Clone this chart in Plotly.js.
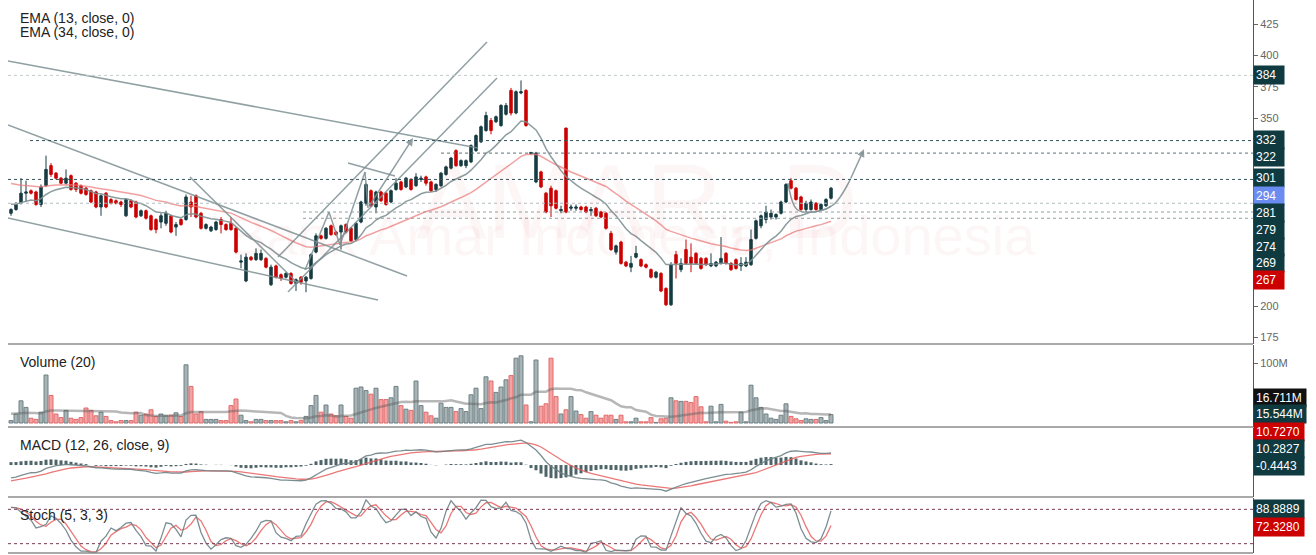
<!DOCTYPE html>
<html><head><meta charset="utf-8">
<script src="https://cdn.plot.ly/plotly-3.0.1.min.js"></script>
<style>html,body{margin:0;padding:0;background:#fff;overflow:hidden}#chart{width:1316px;height:555px}</style>
</head><body><div id="chart"></div>
<script>
// ---------- DATA ----------
const opens = [274,277,282,290,292,291,281,296,312,306,302,298,304,298,296,294,292,291,279,290,
285,284,283,272,284,283,272,276,272,269,267,266,272,263,269,269,283,288,274,262,
260,261,269,265,266,262,235,220,239,237,237,238,217,232,225,223,226,218,223,220,
222,243,256,254,264,259,259,265,262,253,267,282,292,279,291,290,283,293,299,295,
301,296,301,303,299,293,296,305,310,324,312,312,315,324,331,340,348,347,344,353,
372,354,370,372,321.5,299,307,290,294,292,276,342,278,278,279,279,276,278,275,274,
258,243,251,235,231,239,237,233,229,223,226,214,201,241,229,245,239,242,238,238,
232,232,234,242,234,237,232,232,233,254,264,269,271,271,274,283,300,294,287,277,
277,282,277,280,286];
const highs = [278,283,302,300,293,292,297,320,314,307,303,309,305,299,297,295,293,292,289,291,
286,285,284,286,285,284,277,277,273,270,274,276,273,267,270,289,288,289,275,266,
264,268,271,266,271,263,241,242,240,246,245,239,233,233,226,227,227,222,224,224,
242,258,257,263,265,260,265,266,263,267,284,298,293,292,292,291,293,302,300,303,
302,306,304,304,300,298,307,312,319,325,317,317,329,337,344,355,350,352,361,362,
374,372,380,373,323,323,308,291,296,293,280,342,281,281,280,280,279,279,276,275,
260,249,252,236,240,248,238,234,230,228,227,215,235,244,238,253,250,243,239,239,
242,236,255,243,235,238,239,239,261,269,273,280,277,274,284,298,302,295,288,284,
285,283,282,286,295];
const lows = [272,276,281,283,289,280,279,295,303,301,297,297,292,291,289,288,282,278,272,278,
281,281,279,271,278,270,271,269,260,258,262,264,258,256,264,268,271,270,261,261,
259,260,258,260,260,242,230,219,236,236,236,230,216,222,220,222,217,212,217,211,
221,242,253,253,256,256,245,258,251,252,266,280,279,274,283,280,282,292,292,294,
292,295,299,296,291,291,295,304,309,311,311,310,314,323,330,339,337,346,343,352,
352,353,369,343,321,298,294,274,271,277,274,274,276,276,276,274,272,271,270,261,
244,241,233,231,227,238,231,230,222,222,211,200,200,222,227,233,227,233,229,232,
231,231,233,233,228,229,228,231,232,253,262,266,269,269,273,282,293,284,276,275,
276,276,276,279,285];
const closes = [277,281,290,291,290,281,295,309,305,302,298,302,293,293,290,289,283,279,288,279,
282,282,281,285,279,271,276,270,261,261,272,274,259,265,265,287,279,271,262,265,
263,267,265,261,261,243,236,239,237,242,242,231,231,223,222,226,218,221,219,223,
241,256,254,262,257,257,264,259,252,266,283,297,280,291,284,281,292,298,293,302,
293,303,302,298,292,297,306,311,318,312,316,316,328,336,343,352,340,351,360,360,
354,371,371,344,322.5,322,295,275,280,278,277,275,279,279,277,275,277,272,271,262,
245,248,234,232,234,242,232,231,223,227,212,201,233,234,234,234,234,234,230,233,
234,235,238,234,229,230,234,235,253,268,272,275,274,273,283,297,294,285,277,282,
283,277,281,285,294];
// volume in millions
const volumes = [4,15,37,26,8,6,18,80,46,15,9,21,8,6,9,25,21,12,18,11,
4,2,4,4,4,18,13,15,22,11,15,12,13,17,11,97,61,15,19,6,
6,6,4,4,29,40,13,4,2,6,6,4,4,4,4,2,4,2,4,11,
29,46,18,30,15,12,30,11,8,58,60,54,48,58,39,39,42,61,29,23,
21,70,29,18,12,8,33,26,26,19,24,19,47,58,24,77,70,51,60,72,
79,108,112,30,2,105,28,32,108,44,15,22,44,20,14,8,19,13,8,13,
13,6,13,2,2,8,2,2,9,1,7,8,42,37,36,36,34,44,27,2,
28,2,31,3,1,2,18,2,63,42,26,15,8,6,13,32,11,7,4,7,
6,6,9,4,14];
// indicator values at the left edge of the picture (history before the first candle)
const ema13Seed = 282, ema34Seed = 299, ema12Seed = 283, ema26Seed = 294.3, signalSeed = -14, volMaSeed = 16;

// right-side value labels
const priceLabels = ['384','332','322','301','294','281','279','274','269','267'];
const levelPrices = [384, 332, 322, 301, 282, 275, 270];
const volLabels = ['16.711M','15.544M'];
const macdLabels = ['10.7270','10.2827','-0.4443'];
const stochLabels = ['88.8889','72.3280'];
const priceTicks = [175,200,350,375,400,425];
const volTicks = [0,100];
const volTickText = ['0','100M'];

// ---------- indicators ----------
const N = closes.length;
const idx = closes.map((_, i) => i);
function emaSeries(src, period, seed){const k=2/(period+1);let p=seed;return src.map(v=>(p=v*k+p*(1-k)));}
const ema13 = emaSeries(closes,13,ema13Seed);
const ema34 = emaSeries(closes,34,ema34Seed);
const ema12 = emaSeries(closes,12,ema12Seed);
const ema26 = emaSeries(closes,26,ema26Seed);
const macd = ema12.map((v,i)=>v-ema26[i]);
const signal = emaSeries(macd,9,signalSeed);
const hist = macd.map((v,i)=>v-signal[i]);
const volMA = volumes.map((_,i)=>{let s=0;for(let j=i-19;j<=i;j++){s+= j>=0?volumes[j]:volMaSeed;}return s/20;});
const rawK = closes.map((c,i)=>{const a=Math.max(0,i-4);const hh=Math.max(...highs.slice(a,i+1));const ll=Math.min(...lows.slice(a,i+1));return hh===ll?50:100*(c-ll)/(hh-ll);});
const sma=(arr,n)=>arr.map((_,i)=>{const s=arr.slice(Math.max(0,i-n+1),i+1);return s.reduce((a,b)=>a+b,0)/s.length;});
const stochK = sma(rawK,3), stochD = sma(stochK,3);

// ---------- style ----------
const UP='#163c42', DN='#cc0000', TEAL='#0f3a40', H=555;
const py = p => 1 - p/H; // pixel row -> paper
const upDir = closes.map((c,i)=>c>=opens[i]);

const traces = [
 {type:'candlestick', x:idx, open:opens, high:highs, low:lows, close:closes, xaxis:'x', yaxis:'y',
  increasing:{line:{color:UP,width:1},fillcolor:UP}, decreasing:{line:{color:DN,width:1},fillcolor:DN},
  whiskerwidth:0, hoverinfo:'skip'},
 {type:'scatter', mode:'lines', x:idx, y:ema34, yaxis:'y', line:{color:'rgba(235,120,120,0.7)',width:1.5}, hoverinfo:'skip'},
 {type:'scatter', mode:'lines', x:idx, y:ema13, yaxis:'y', line:{color:'rgba(128,145,148,0.9)',width:1.5}, hoverinfo:'skip'},
 {type:'scatter', mode:'lines', x:[155.4,157.2,160.4,164.4,167.8], y:[298,277,275,280.6,300.5], yaxis:'y',
  line:{color:'rgba(128,145,148,0.9)',width:1.5,shape:'spline'}, hoverinfo:'skip'},
 {type:'bar', x:idx, y:volumes, yaxis:'y2', width:0.8,
  marker:{color:upDir.map(u=>u?'#a7b3b5':'#f3a3a3'), line:{color:upDir.map(u=>u?'#6f8185':'#e26a6a'),width:1}}, hoverinfo:'skip'},
 {type:'scatter', mode:'lines', x:idx, y:volMA, yaxis:'y2', line:{color:'rgba(95,95,95,0.45)',width:2.5}, hoverinfo:'skip'},
 {type:'bar', x:idx, y:hist, yaxis:'y3', width:0.6, marker:{color:'#4e6468'}, hoverinfo:'skip'},
 {type:'scatter', mode:'lines', x:idx, y:signal, yaxis:'y3', line:{color:'rgba(232,95,95,0.85)',width:1.3}, hoverinfo:'skip'},
 {type:'scatter', mode:'lines', x:idx, y:macd, yaxis:'y3', line:{color:'rgba(110,130,134,0.9)',width:1.3}, hoverinfo:'skip'},
 {type:'scatter', mode:'lines', x:idx, y:stochD, yaxis:'y4', line:{color:'rgba(232,95,95,0.85)',width:1.3}, hoverinfo:'skip'},
 {type:'scatter', mode:'lines', x:idx, y:stochK, yaxis:'y4', line:{color:'rgba(110,130,134,0.9)',width:1.3}, hoverinfo:'skip'}
];

const XR=[-0.6,248.4];
const axBase = {side:'right', anchor:'x', showline:true, linecolor:'#555', linewidth:1, showgrid:false, zeroline:false,
  ticks:'outside', ticklen:4, tickcolor:'#666', tickfont:{family:'Arial',size:11,color:'#666'}, fixedrange:true};

const shapes = [];
const lineC='rgba(125,143,147,0.85)';
const seg=(x0,y0,x1,y1)=>shapes.push({type:'line',xref:'x',yref:'y',x0,y0,x1,y1,line:{color:lineC,width:1.5}});
seg(-0.6,395.5,93.4,326.1);
seg(-0.6,344.4,79.2,223.9);
seg(-0.6,270.2,73.4,204.8);
seg(35.8,302.9,57.4,218);
seg(53.4,239.1,95.2,410.6);
seg(55.4,211.2,97.2,381.9);
seg(58.8,228.7,63.6,275); seg(63.6,275,65.8,248.7); seg(65.8,248.7,70.8,306.9); seg(70.8,306.9,71.4,278.2);
seg(67.4,314.1,76.8,303.7);
// horizontal levels
const levelStyle=[['#c3c9cb',-0.6],['#34525a',3.8],['#5a7278',86],['#34525a',-0.6],['#b2bcbe',-0.6],['#8fa0a3',58.4],['#8fa0a3',58.4]];
levelPrices.forEach((p,k)=>shapes.push({type:'line',xref:'x',yref:'y',x0:levelStyle[k][1],x1:XR[1],y0:p,y1:p,line:{color:levelStyle[k][0],width:1,dash:'dot'}}));
// stoch 80/20
[80,20].forEach(v=>shapes.push({type:'line',xref:'x',yref:'y4',x0:XR[0],x1:XR[1],y0:v,y1:v,line:{color:'#7a3a55',width:1,dash:'dot'}}));
// panel separators
[344,427,497,553].forEach(y=>shapes.push({type:'line',xref:'paper',yref:'paper',x0:0,x1:1,y0:py(y),y1:py(y),line:{color:'#8c8c8c',width:1.5}}));

const annotations = [];
const txt=(t,x,y,size)=>annotations.push({text:t,xref:'paper',yref:'paper',x:(x-8)/1245,y:py(y),xanchor:'left',yanchor:'middle',showarrow:false,font:{family:'Arial',size:size||14,color:'#222'}});
txt('EMA (13, close, 0)',18,18); txt('EMA (34, close, 0)',18,32);
txt('Volume (20)',18,362); txt('MACD (12, 26, close, 9)',18,445); txt('Stoch (5, 3, 3)',18,515);
// watermarks
annotations.push({text:'AMAR, D',xref:'paper',yref:'paper',x:(637-8)/1245,y:py(140),showarrow:false,font:{family:'Arial',size:106,color:'rgba(200,20,20,0.04)'}});
annotations.push({text:'Bank Amar Indonesia, Indonesia',xref:'paper',yref:'paper',x:(632-8)/1245,y:py(235),showarrow:false,font:{family:'Arial',size:56,color:'rgba(200,20,20,0.04)'}});
// arrows
annotations.push({x:80.4,y:334,ax:71.4,ay:278.2,xref:'x',yref:'y',axref:'x',ayref:'y',showarrow:true,arrowhead:2,arrowsize:1,arrowwidth:1.5,arrowcolor:lineC,text:''});
annotations.push({x:170.6,y:325,ax:167.8,ay:300.5,xref:'x',yref:'y',axref:'x',ayref:'y',showarrow:true,arrowhead:2,arrowsize:1,arrowwidth:1.5,arrowcolor:lineC,text:''});
// right-side value boxes
const box=(t,y,bg,w)=>annotations.push({text:t,xref:'paper',yref:'paper',x:1,y:py(y),xanchor:'left',yanchor:'middle',showarrow:false,
  bgcolor:bg,borderpad:2,width:w,align:'left',font:{family:'Arial',size:12,color:'#fff'}});
const mainY=[75,140,157,178,196,213,230,247,263,280];
priceLabels.forEach((t,k)=>box(t,mainY[k],k===4?'#6a8cf0':(k===9?'#cc0000':TEAL),26));
box(volLabels[0],398,'#111',48); box(volLabels[1],414,TEAL,48);
box(macdLabels[0],432,'#cc0000',46); box(macdLabels[1],449,TEAL,46); box(macdLabels[2],466,TEAL,46);
box(stochLabels[0],509,TEAL,46); box(stochLabels[1],527,'#cc0000',46);

const layout = {
 width:1316, height:555, margin:{l:8,r:63,t:0,b:0}, paper_bgcolor:'#fff', plot_bgcolor:'#fff',
 showlegend:false, barmode:'overlay', hovermode:false, dragmode:false,
 xaxis:{range:XR, visible:false, fixedrange:true, rangeslider:{visible:false}, anchor:'y4'},
 yaxis:Object.assign({},axBase,{domain:[py(344),1], range:[169.7,444.15], tickvals:priceTicks}),
 yaxis2:Object.assign({},axBase,{domain:[py(427),py(345)], range:[-6.67,130], tickvals:volTicks, ticktext:volTickText}),
 yaxis3:Object.assign({},axBase,{domain:[py(497),py(428)], range:[-27.1,31.4], showticklabels:false, ticks:''}),
 yaxis4:Object.assign({},axBase,{domain:[py(553),py(498)], range:[3.7,99.8], showticklabels:false, ticks:''}),
 shapes, annotations
};
Plotly.newPlot('chart', traces, layout, {displayModeBar:false, staticPlot:true});
</script></body></html>
